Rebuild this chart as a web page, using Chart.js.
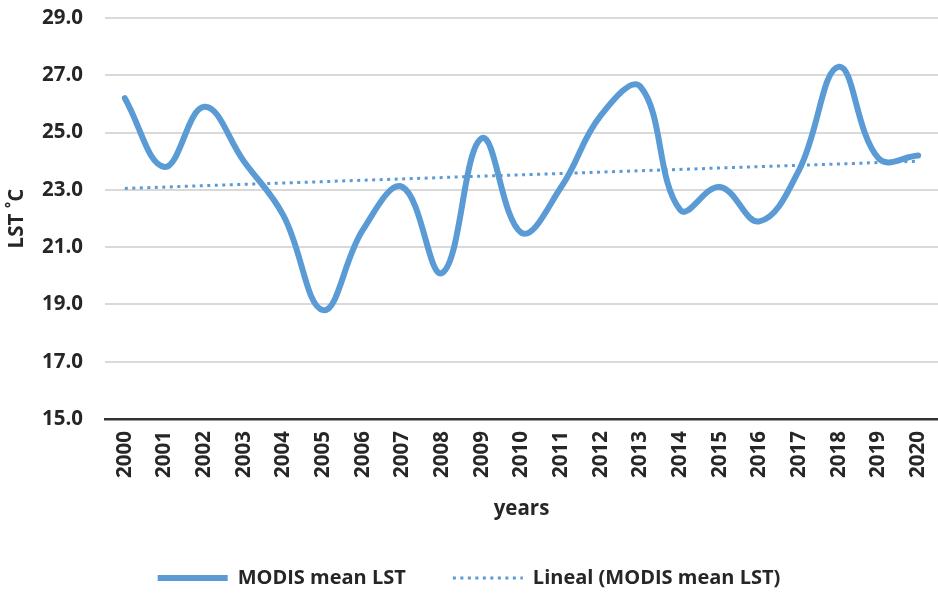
<!DOCTYPE html>
<html>
<head>
<meta charset="utf-8">
<script src="https://cdn.jsdelivr.net/npm/chart.js@4/dist/chart.umd.min.js"></script>
<style>
  html, body { margin: 0; padding: 0; background: #ffffff; }
  #wrap { width: 938px; height: 594px; position: relative; }
</style>
</head>
<body>
<div id="wrap"><canvas id="c" width="938" height="594"></canvas></div>
<script>
// ---- data ----
const years = ['2000','2001','2002','2003','2004','2005','2006','2007','2008','2009','2010',
               '2011','2012','2013','2014','2015','2016','2017','2018','2019','2020'];
const meanLST = [26.2, 23.8, 25.9, 24.0, 22.1, 18.8, 21.6, 23.1, 20.1, 24.8, 21.5,
                 23.1, 25.6, 26.6, 22.3, 23.1, 21.9, 23.7, 27.3, 24.1, 24.2];
const trendYears = ['2000', '2020'];
const trendValues = [23.05, 24.0];
const yTicks = [15, 17, 19, 21, 23, 25, 27, 29];
const seriesNames = ['MODIS mean LST', 'Lineal (MODIS mean LST)'];
const axisTitles = { x: 'years', y: 'LST ˚C' };

const FONT = "'Open Sans', 'DejaVu Sans', sans-serif";
const TEXT = '#262626';
const BLUE = '#5B9BD5';

new Chart(document.getElementById('c'), {
  type: 'line',
  data: {
    labels: years,
    datasets: [
      {
        label: seriesNames[0],
        data: meanLST,
        borderColor: BLUE,
        backgroundColor: BLUE,
        borderWidth: 6,
        tension: 0.4,
        pointRadius: 0,
        fill: false,
        borderCapStyle: 'round',
        borderJoinStyle: 'round',
        order: 1
      },
      {
        label: seriesNames[1],
        data: trendYears.map((y, i) => ({ x: y, y: trendValues[i] })),
        borderColor: BLUE,
        backgroundColor: BLUE,
        borderWidth: 3,
        borderDash: [3, 4.5],
        tension: 0,
        pointRadius: 0,
        fill: false,
        order: 2
      }
    ]
  },
  options: {
    responsive: false,
    animation: false,
    devicePixelRatio: 1,
    layout: { padding: { top: 18, left: 0, right: 0, bottom: 0 } },
    plugins: {
      tooltip: { enabled: false },
      legend: {
        position: 'bottom',
        maxHeight: 73,
        labels: {
          usePointStyle: true,
          pointStyle: 'line',
          pointStyleWidth: 70,
          boxWidth: 70,
          boxHeight: 20,
          padding: 47,
          color: TEXT,
          font: { family: FONT, size: 20, weight: 'bold' },
          generateLabels: (chart) => {
            const items = Chart.defaults.plugins.legend.labels.generateLabels(chart);
            items.forEach((it) => {
              const ds = chart.data.datasets[it.datasetIndex];
              it.lineDash = ds.borderDash || [];
              it.lineWidth = ds.borderWidth;
              it.lineCap = 'butt';
            });
            return items;
          }
        }
      }
    },
    scales: {
      x: {
        type: 'category',
        offset: true,
        grid: { display: false, drawTicks: false },
        border: { display: true, color: '#333333', width: 2.5 },
        ticks: {
          color: TEXT,
          font: { family: FONT, size: 20.5, weight: 'bold' },
          minRotation: 90,
          maxRotation: 90,
          padding: 12,
          autoSkip: false
        },
        title: {
          display: true,
          text: axisTitles.x,
          color: TEXT,
          font: { family: FONT, size: 20.5, weight: 'bold' },
          padding: { top: 0, bottom: 0 }
        },
        afterFit: (s) => { s.height = 102; s.paddingLeft = 0; s.paddingRight = 0; }
      },
      y: {
        min: 15,
        max: 29,
        afterBuildTicks: (s) => { s.ticks = yTicks.map(v => ({ value: v })); },
        grid: {
          drawTicks: false,
          color: (ctx) => (ctx.tick && ctx.tick.value === 15) ? 'rgba(0,0,0,0)' : '#d9d9d9',
          lineWidth: 2
        },
        border: { display: false },
        ticks: {
          color: TEXT,
          font: { family: FONT, size: 20.5, weight: 'bold' },
          padding: 22,
          callback: (v) => Number(v).toFixed(1)
        },
        title: {
          display: true,
          text: axisTitles.y,
          color: TEXT,
          font: { family: FONT, size: 20.5, weight: 'bold' },
          padding: { top: 5, bottom: 0 }
        },
        afterFit: (s) => { s.width = 105; s.paddingTop = 0; s.paddingBottom = 0; }
      }
    }
  }
});
</script>
</body>
</html>
